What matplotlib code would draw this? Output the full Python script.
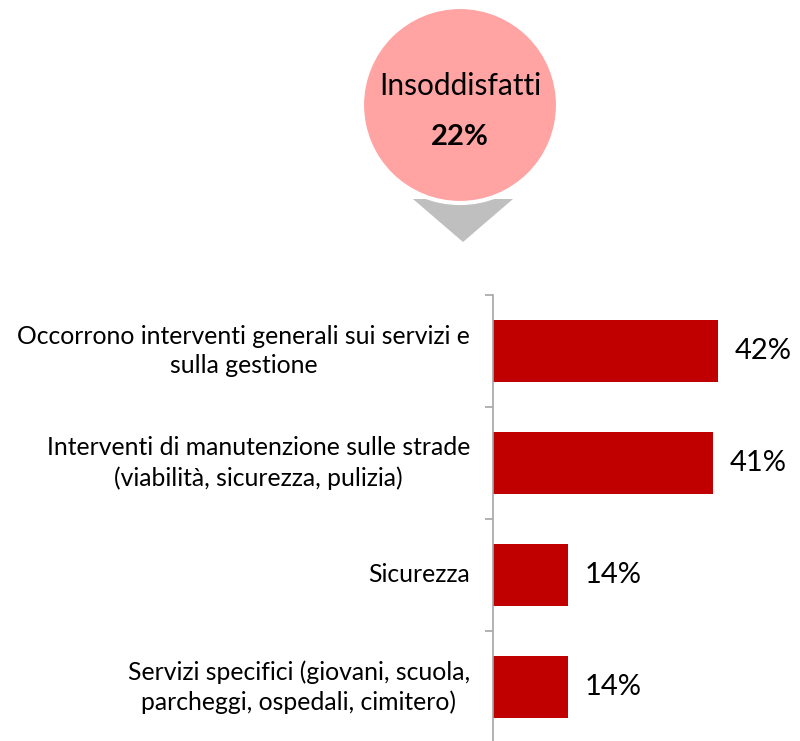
import matplotlib.pyplot as plt
from matplotlib.patches import Circle, Polygon

# dati
categorie = [
    "Occorrono interventi generali sui servizi e\nsulla gestione",
    "Interventi di manutenzione sulle strade\n(viabilità, sicurezza, pulizia)",
    "Sicurezza",
    "Servizi specifici (giovani, scuola,\nparcheggi, ospedali, cimitero)",
]
valori = [42, 41, 14, 14]
titolo_bolla = "Insoddisfatti"
valore_bolla = "22%"

plt.rcParams['font.family'] = ['Lato', 'DejaVu Sans']

fig = plt.figure(figsize=(8, 7.41), dpi=100)

# bolla in alto (coordinate in pixel della figura)
ax_top = fig.add_axes([0, 0, 1, 1])
ax_top.set_xlim(0, 800)
ax_top.set_ylim(741, 0)
ax_top.axis('off')
ax_top.add_patch(Polygon([[413, 199], [513, 199], [463, 242]], closed=True,
                         facecolor='#BFBFBF', edgecolor='none', zorder=1))
ax_top.add_patch(Circle((460, 105), 98, facecolor='#FFA3A3', edgecolor='white',
                        linewidth=3, zorder=2))
ax_top.text(460, 86, titolo_bolla, ha='center', va='center', fontsize=21.5, zorder=3)
ax_top.text(460, 137, valore_bolla, ha='center', va='center', fontsize=21,
            fontweight='bold', zorder=3)

# grafico a barre
ax = fig.add_axes([493 / 800, 1 - 743 / 741, 300 / 800, 448 / 741])
pos = list(range(len(valori)))
ax.barh(pos, valori, height=0.56, color='#C00000')
ax.set_ylim(len(valori) - 0.5, -0.5)
ax.set_xlim(0, 300 / 5.36)

for sp in ['top', 'right', 'bottom']:
    ax.spines[sp].set_visible(False)
ax.spines['left'].set_color('#A6A6A6')
ax.spines['left'].set_linewidth(1.2)
ax.set_xticks([])
ax.set_yticks([])
ax.set_yticks([p - 0.5 for p in range(len(valori) + 1)], minor=True)
ax.tick_params(axis='y', which='minor', length=6, color='#A6A6A6', width=1.2)

for p, cat, v in zip(pos, categorie, valori):
    ax.text(-0.077, p, cat, transform=ax.get_yaxis_transform(), ha='right',
            va='center', multialignment='center', fontsize=17.8, linespacing=1.35)
    ax.annotate(f"{v}%", (v, p), xytext=(12, 0), textcoords='offset points',
                ha='left', va='center', fontsize=21)

fig.savefig('out.png', dpi=100)
